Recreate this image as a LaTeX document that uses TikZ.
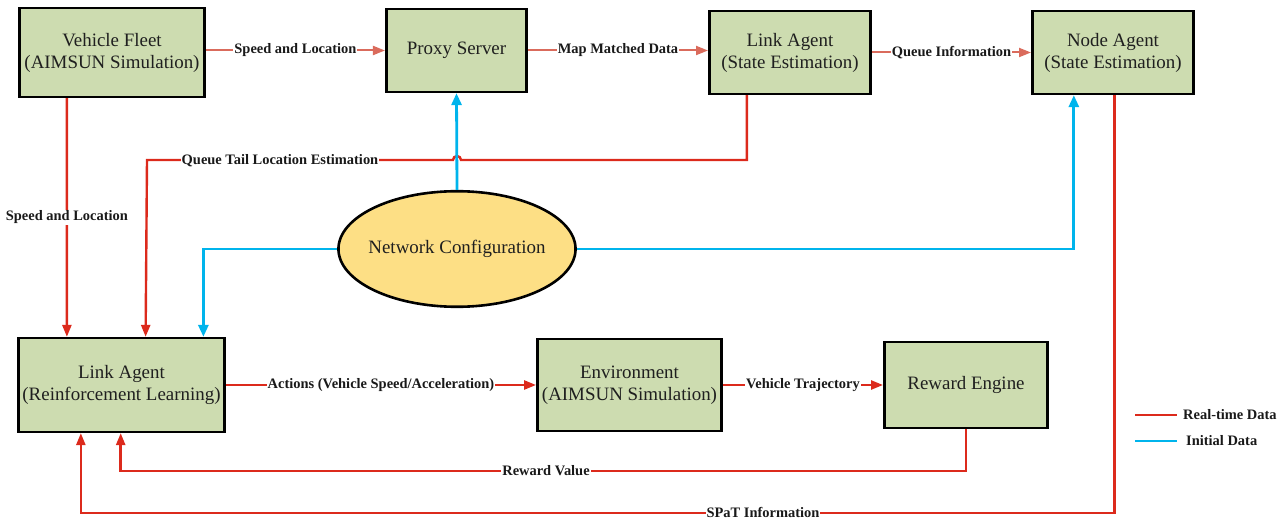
\documentclass[tikz,border=0pt]{standalone}
\usepackage{fontspec}
\setmainfont{Liberation Serif}
\newfontfamily\tnr{Liberation Serif}
\usetikzlibrary{arrows.meta,calc,shapes.geometric}
\definecolor{boxfill}{HTML}{CDDCB0}
\definecolor{ellfill}{HTML}{FDDF85}
\definecolor{salmon}{HTML}{DA6B5C}
\definecolor{rtred}{HTML}{DC2A1C}
\definecolor{initblue}{HTML}{00B4EC}
\tikzset{
  block/.style={draw=black, line width=2.6bp, fill=boxfill, align=center,
    font=\tnr\fontsize{19}{22}\selectfont, inner sep=0pt, text=black!88},
  config/.style={ellipse, draw=black, line width=2.6bp, fill=ellfill, inner sep=0pt},
  cfgtext/.style={font=\tnr\fontsize{19}{22}\selectfont, inner sep=0pt, text=black!88},
  tipr/.style={-{Triangle[length=12bp,width=9bp]}},
  soft/.style={draw=salmon, line width=2bp, tipr},
  rt/.style={draw=rtred, line width=2.4bp, tipr},
  init/.style={draw=initblue, line width=2.8bp, -{Triangle[length=12bp,width=10bp]}},
  lbl/.style={fill=white, inner sep=1pt, font=\tnr\fontsize{14.5}{16}\selectfont\bfseries, text=black!90},
  legtext/.style={anchor=west, inner sep=0pt, font=\tnr\fontsize{14.5}{16}\selectfont\bfseries, text=black!90}
}
\begin{document}
\begin{tikzpicture}[x=1bp, y=-1bp]
\useasboundingbox (0,0) rectangle (1286,519);

% blocks
\node[block, minimum width=186, minimum height=89] (vf) at (112,52.5) {Vehicle Fleet\\(AIMSUN Simulation)};
\node[block, minimum width=141, minimum height=83] (ps) at (456.5,50.5) {Proxy Server};
\node[block, minimum width=162, minimum height=83] (lse) at (790,52.5) {Link Agent\\(State Estimation)};
\node[block, minimum width=162, minimum height=83] (na) at (1113,52.5) {Node Agent\\(State Estimation)};
\node[block, minimum width=207, minimum height=94] (lrl) at (121.5,385) {Link Agent\\(Reinforcement Learning)};
\node[block, minimum width=185, minimum height=92] (env) at (629.5,385) {Environment\\(AIMSUN Simulation)};
\node[block, minimum width=164, minimum height=86] (re) at (966,385) {Reward Engine};
\node[config, minimum width=238, minimum height=116,
  label={[cfgtext]center:Network Configuration}] (nc) at (457,249) {};

% top row data flow
\draw[soft] (vf.east |- ps.west) -- node[lbl] {Speed and Location} (ps.west);
\draw[soft] (ps.east) -- node[lbl] {Map Matched Data} (ps.east -| lse.west);
\draw[soft] (lse.east) -- node[lbl] {Queue Information} (na.west);

% vehicle fleet down to the learning agent
\draw[rt] ([xshift=49]vf.south west) -- node[lbl, pos=0.5] {Speed and Location} ([xshift=50]lrl.north west);

% queue tail feedback, hopping over the blue line
\coordinate (qa) at ([xshift=39]lse.south west |- 0,160);
\coordinate (qh) at (461,160);
\coordinate (qb) at (147,160);
\draw[rt] ([xshift=39]lse.south west) -- (qa) -- (qh) arc (0:-180:4) -- (qb)
  -- ([xshift=129]lrl.north west);
\node[lbl] at (280,161) {Queue Tail Location Estimation};

% initial data from the network configuration
\draw[init] (nc.north) -- (ps.south);
\draw[init] (nc.west) -| ([xshift=187]lrl.north west);
\draw[init] (nc.east) -| ([xshift=43]na.south west);

% bottom row
\draw[rt] (lrl.east) -- node[lbl] {Actions (Vehicle Speed/Acceleration)} (env.west);
\draw[rt] (env.east) -- node[lbl] {Vehicle Trajectory} (re.west);

% reward feedback
\coordinate (ra) at (re.south |- 0,471);
\coordinate (rb) at ([xshift=104]lrl.south west |- 0,471);
\draw[rt] (re.south) -- (ra) -- (rb) -- ([xshift=104]lrl.south west);
\node[lbl] at (546,471) {Reward Value};

% signal phase and timing feedback
\coordinate (sa) at ([xshift=84]na.south west |- 0,513);
\coordinate (sb) at ([xshift=64]lrl.south west |- 0,513);
\draw[rt] ([xshift=84]na.south west) -- (sa) -- (sb) -- ([xshift=64]lrl.south west);
\node[lbl, inner ysep=0pt] at (763,512.5) {SPaT Information};

% legend
\coordinate (l1a) at (1135,415); \coordinate (l1b) at (1177,415);
\coordinate (l2a) at (1135,441); \coordinate (l2b) at (1177,441);
\draw[rtred, line width=2.4bp] (l1a) -- (l1b);
\draw[initblue, line width=2.8bp] (l2a) -- (l2b);
\node[legtext] (leg1) at (1183,415) {Real-time Data};
\node[legtext] (leg2) at (1186,441) {Initial Data};
\end{tikzpicture}
\end{document}
